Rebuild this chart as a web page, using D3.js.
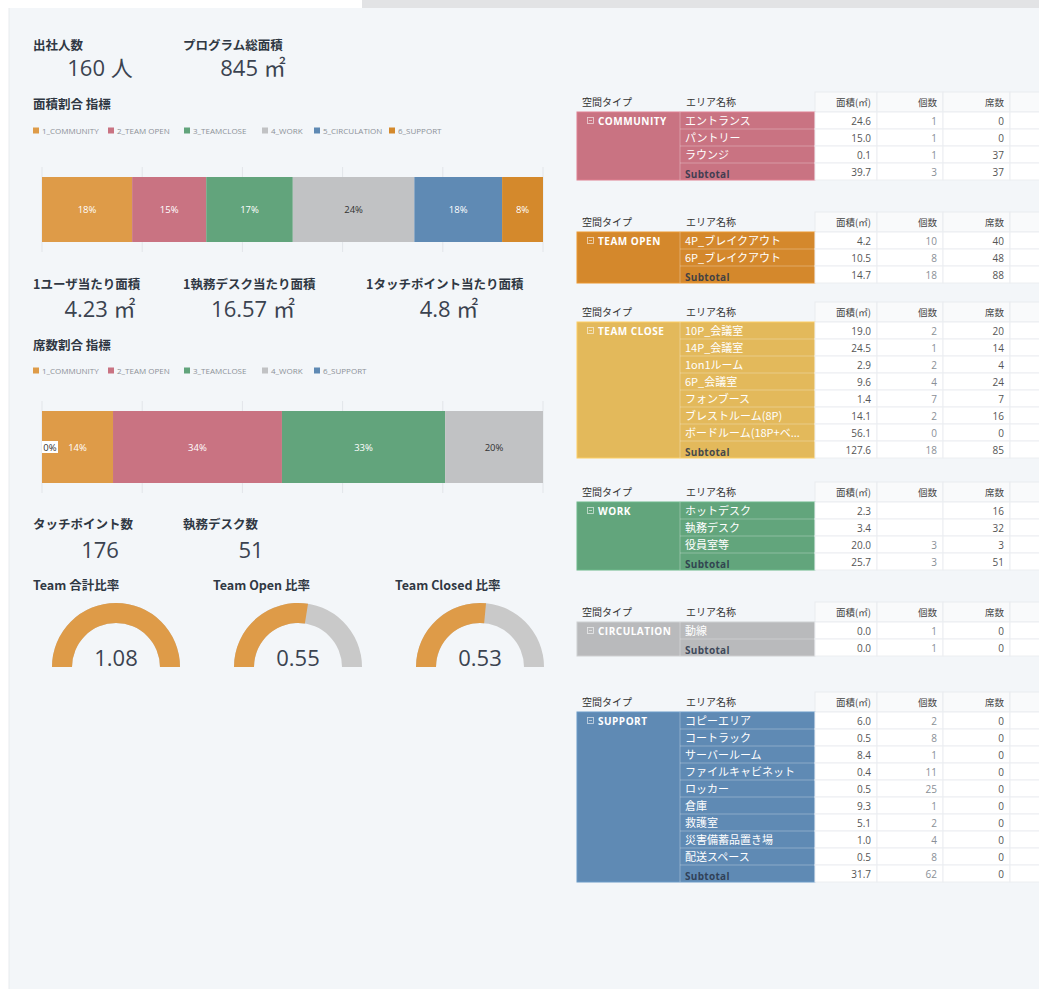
<!DOCTYPE html>
<html>
<head>
<meta charset="utf-8">
<script src="https://cdn.jsdelivr.net/npm/d3@7"></script>
<style>
  body { margin: 0; background: #fff; }
  text { font-family: "Open Sans", "Noto Sans CJK JP", sans-serif; }
  .jp { font-family: "Noto Sans CJK JP", "Open Sans", sans-serif; }
</style>
</head>
<body>
<div id="chart"></div>
<script>
// ---- data ----
const areaCategories = ["1_COMMUNITY", "2_TEAM OPEN", "3_TEAMCLOSE", "4_WORK", "5_CIRCULATION", "6_SUPPORT"];
const areaValues = [152, 125, 146, 205, 148, 69];

const seatCategories = ["1_COMMUNITY", "2_TEAM OPEN", "3_TEAMCLOSE", "4_WORK", "6_SUPPORT"];
const seatValues = [37, 88, 85, 51, 0];
const seatStackOrder = ["6_SUPPORT", "1_COMMUNITY", "2_TEAM OPEN", "3_TEAMCLOSE", "4_WORK"];

const palette = ["#de9b48", "#c97382", "#62a47c", "#c1c2c4", "#5f8ab4", "#d4892c"];

const kpiLabelsTop = ["出社人数", "プログラム総面積"];
const kpiValuesTop = ["160 人", "845 ㎡"];
const kpiLabelsMid = ["1ユーザ当たり面積", "1執務デスク当たり面積", "1タッチポイント当たり面積"];
const kpiValuesMid = ["4.23 ㎡", "16.57 ㎡", "4.8 ㎡"];
const kpiLabelsLow = ["タッチポイント数", "執務デスク数"];
const kpiValuesLow = ["176", "51"];

const gaugeLabels = ["Team 合計比率", "Team Open 比率", "Team Closed 比率"];
const gaugeValues = [1.08, 0.55, 0.53];

const tableHeaders = ["空間タイプ", "エリア名称", "面積(㎡)", "個数", "席数"];
const tableTypes = ["COMMUNITY", "TEAM OPEN", "TEAM CLOSE", "WORK", "CIRCULATION", "SUPPORT"];
const tableColors = ["#c97382", "#d4882c", "#e3b95b", "#62a57c", "#b9babc", "#5f8ab4"];

// [エリア名称, 面積, 個数, 席数]
const communityRows = [["エントランス", "24.6", "1", "0"], ["パントリー", "15.0", "1", "0"], ["ラウンジ", "0.1", "1", "37"], ["Subtotal", "39.7", "3", "37"]];
const teamOpenRows = [["4P_ブレイクアウト", "4.2", "10", "40"], ["6P_ブレイクアウト", "10.5", "8", "48"], ["Subtotal", "14.7", "18", "88"]];
const teamCloseRows = [["10P_会議室", "19.0", "2", "20"], ["14P_会議室", "24.5", "1", "14"], ["1on1ルーム", "2.9", "2", "4"], ["6P_会議室", "9.6", "4", "24"],
  ["フォンブース", "1.4", "7", "7"], ["ブレストルーム(8P)", "14.1", "2", "16"], ["ボードルーム(18P+ベ...", "56.1", "0", "0"], ["Subtotal", "127.6", "18", "85"]];
const workRows = [["ホットデスク", "2.3", "", "16"], ["執務デスク", "3.4", "", "32"], ["役員室等", "20.0", "3", "3"], ["Subtotal", "25.7", "3", "51"]];
const circulationRows = [["動線", "0.0", "1", "0"], ["Subtotal", "0.0", "1", "0"]];
const supportRows = [["コピーエリア", "6.0", "2", "0"], ["コートラック", "0.5", "8", "0"], ["サーバールーム", "8.4", "1", "0"], ["ファイルキャビネット", "0.4", "11", "0"],
  ["ロッカー", "0.5", "25", "0"], ["倉庫", "9.3", "1", "0"], ["救護室", "5.1", "2", "0"], ["災害備蓄品置き場", "1.0", "4", "0"], ["配送スペース", "0.5", "8", "0"], ["Subtotal", "31.7", "62", "0"]];
const tableRows = [communityRows, teamOpenRows, teamCloseRows, workRows, circulationRows, supportRows];

// ---- layout ----
const W = 1039, H = 989;
const titleColor = "#303843", valueColor = "#3b4350";

const svg = d3.select("#chart").append("svg")
  .attr("width", W).attr("height", H);

svg.append("rect").attr("width", W).attr("height", H).attr("fill", "#fff");
svg.append("rect").attr("x", 362).attr("y", 0).attr("width", W - 362).attr("height", 8).attr("fill", "#e2e3e5");
svg.append("rect").attr("x", 9).attr("y", 8).attr("width", W - 9).attr("height", H - 8).attr("fill", "#f3f6f9");
svg.append("line").attr("x1", 9).attr("x2", 9).attr("y1", 8).attr("y2", H).attr("stroke", "#e8ebee");

function title(x, y, t) {
  svg.append("text").attr("class", "jp").attr("x", x).attr("y", y)
    .attr("font-size", 12.5).attr("font-weight", 700).attr("fill", titleColor).text(t);
}
function kpi(labels, values, xs, cx, yLabel, yValue) {
  labels.forEach((l, i) => title(xs[i], yLabel, l));
  values.forEach((v, i) => {
    svg.append("text").attr("x", cx[i]).attr("y", yValue).attr("text-anchor", "middle")
      .attr("font-size", 22).attr("fill", valueColor).text(v);
  });
}

kpi(kpiLabelsTop, kpiValuesTop, [33, 183], [100, 253], 50, 76);
kpi(kpiLabelsMid, kpiValuesMid, [33, 183, 366], [100, 253, 449], 289, 317);
kpi(kpiLabelsLow, kpiValuesLow, [33, 183], [100, 251], 529, 558);

title(33, 109, "面積割合 指標");
title(33, 350, "席数割合 指標");

const legendX = [33, 108, 184, 262, 314, 389];
function legend(cats, y) {
  cats.forEach((c, i) => {
    svg.append("rect").attr("x", legendX[i]).attr("y", y - 3.5).attr("width", 6).attr("height", 6)
      .attr("fill", palette[i]);
    svg.append("text").attr("x", legendX[i] + 9).attr("y", y + 2.5)
      .attr("font-size", 8).attr("fill", "#8c9198").text(c);
  });
}
legend(areaCategories, 131);
legend(seatCategories, 371);

function stackBar(cats, vals, order, y0, h) {
  const total = d3.sum(vals);
  const x = d3.scaleLinear().domain([0, 1]).range([42, 543]);
  const g = svg.append("g");
  g.selectAll("line.grid").data(x.ticks(5)).join("line")
    .attr("x1", d => x(d)).attr("x2", d => x(d))
    .attr("y1", y0 - 10).attr("y2", y0 + h + 10)
    .attr("stroke", "#e2e5e9");
  let acc = 0;
  const segs = order.map(c => {
    const i = cats.indexOf(c);
    const s = { cat: c, color: palette[i], v: vals[i], x0: acc / total };
    acc += vals[i];
    s.x1 = acc / total;
    return s;
  });
  g.selectAll("rect.seg").data(segs).join("rect")
    .attr("x", d => x(d.x0)).attr("y", y0)
    .attr("width", d => x(d.x1) - x(d.x0)).attr("height", h)
    .attr("fill", d => d.color);
  segs.forEach(d => {
    const lbl = d3.format(".0%")(d.v / total);
    if (d.v === 0) {
      g.append("rect").attr("x", x(d.x0)).attr("y", y0 + h / 2 - 6)
        .attr("width", 16).attr("height", 12).attr("fill", "#fff");
      g.append("text").attr("x", x(d.x0) + 8).attr("y", y0 + h / 2 + 3.5)
        .attr("text-anchor", "middle").attr("font-size", 9.5).attr("fill", "#333").text(lbl);
    } else {
      g.append("text").attr("x", (x(d.x0) + x(d.x1)) / 2).attr("y", y0 + h / 2 + 3.5)
        .attr("text-anchor", "middle").attr("font-size", 9.5)
        .attr("fill", d3.hsl(d.color).l > 0.7 ? "#333" : "#fff").text(lbl);
    }
  });
}
stackBar(areaCategories, areaValues, areaCategories, 177, 65);
stackBar(seatCategories, seatValues, seatStackOrder, 411, 72);

// ---- gauges ----
const gaugeX = [116, 298, 480], gaugeY = 667;
const gaugeTitleX = [33, 213, 395];
const angle = d3.scaleLinear().domain([0, 1]).range([-Math.PI / 2, Math.PI / 2]).clamp(true);
const arc = d3.arc().innerRadius(44).outerRadius(64);
gaugeLabels.forEach((l, i) => title(gaugeTitleX[i], 590, l));
gaugeValues.forEach((v, i) => {
  const g = svg.append("g").attr("transform", `translate(${gaugeX[i]},${gaugeY})`);
  g.append("path").attr("d", arc({ startAngle: angle(0), endAngle: angle(1) })).attr("fill", "#c9c9c9");
  g.append("path").attr("d", arc({ startAngle: angle(0), endAngle: angle(v) })).attr("fill", palette[0]);
  g.append("text").attr("text-anchor", "middle").attr("y", -1)
    .attr("font-size", 22).attr("fill", valueColor).text(d3.format(".2f")(v));
});

// ---- tables ----
const tableTops = [112, 232, 322, 502, 622, 712];
const rowH = 17, headH = 20;
const colEdges = [815, 877, 943, 1010, 1050];
const blockX0 = 577, nameX0 = 680;

tableRows.forEach((rows, ti) => {
  const top = tableTops[ti];
  const g = svg.append("g");
  const y = d3.scaleBand().domain(d3.range(rows.length)).range([top, top + rows.length * rowH]);
  const bottom = top + rows.length * rowH;

  // header
  for (let c = 0; c < 4; c++) {
    g.append("rect").attr("x", colEdges[c]).attr("y", top - headH)
      .attr("width", colEdges[c + 1] - colEdges[c]).attr("height", headH)
      .attr("fill", "#f9fafb").attr("stroke", "#e9ecef");
  }
  g.append("text").attr("class", "jp").attr("x", 582).attr("y", top - 6)
    .attr("font-size", 10).attr("fill", "#333").text(tableHeaders[0]);
  g.append("text").attr("class", "jp").attr("x", 686).attr("y", top - 6)
    .attr("font-size", 10).attr("fill", "#333").text(tableHeaders[1]);
  [2, 3, 4].forEach((h, k) => {
    g.append("text").attr("class", "jp").attr("x", colEdges[k + 1] - 6).attr("y", top - 6)
      .attr("text-anchor", "end").attr("font-size", 9.5).attr("fill", "#444").text(tableHeaders[h]);
  });

  // colored block
  g.append("rect").attr("x", blockX0).attr("y", top).attr("width", colEdges[0] - blockX0)
    .attr("height", bottom - top).attr("fill", tableColors[ti])
    .attr("stroke", d3.color(tableColors[ti]).brighter(0.3)).attr("stroke-width", 1);
  g.append("line").attr("x1", nameX0).attr("x2", nameX0).attr("y1", top).attr("y2", bottom)
    .attr("stroke", "rgba(255,255,255,0.3)");
  rows.forEach((r, i) => {
    if (i > 0) {
      g.append("line").attr("x1", nameX0).attr("x2", colEdges[0]).attr("y1", y(i)).attr("y2", y(i))
        .attr("stroke", "rgba(255,255,255,0.28)");
    }
    // numeric cells
    for (let c = 0; c < 4; c++) {
      g.append("rect").attr("x", colEdges[c]).attr("y", y(i))
        .attr("width", colEdges[c + 1] - colEdges[c]).attr("height", rowH)
        .attr("fill", "#fff").attr("stroke", "#eceef1");
    }
    const sub = r[0] === "Subtotal";
    g.append("text").attr("class", sub ? "" : "jp").attr("x", 685).attr("y", y(i) + (sub ? 15 : 13))
      .attr("font-size", sub ? 10 : 11).attr("font-weight", sub ? 700 : 400)
      .attr("letter-spacing", sub ? 0.3 : 0)
      .attr("fill", sub ? "rgba(40,52,72,0.85)" : "#fff").text(r[0]);
    [1, 2, 3].forEach((k, c) => {
      g.append("text").attr("x", colEdges[c + 1] - 6).attr("y", y(i) + 12.5)
        .attr("text-anchor", "end").attr("font-size", 10)
        .attr("fill", k === 2 ? "#8a8f96" : "#555").text(r[k]);
    });
  });

  // group label
  g.append("rect").attr("x", 587.5).attr("y", top + 5.5).attr("width", 6).attr("height", 6)
    .attr("fill", "none").attr("stroke", "rgba(255,255,255,0.7)").attr("stroke-width", 0.8);
  g.append("line").attr("x1", 589).attr("x2", 592).attr("y1", top + 8.5).attr("y2", top + 8.5)
    .attr("stroke", "rgba(255,255,255,0.7)").attr("stroke-width", 0.8);
  g.append("text").attr("x", 598).attr("y", top + 12.5)
    .attr("font-size", 10).attr("font-weight", 700).attr("letter-spacing", 0.5)
    .attr("fill", "#fff").text(tableTypes[ti]);
});
</script>
</body>
</html>
